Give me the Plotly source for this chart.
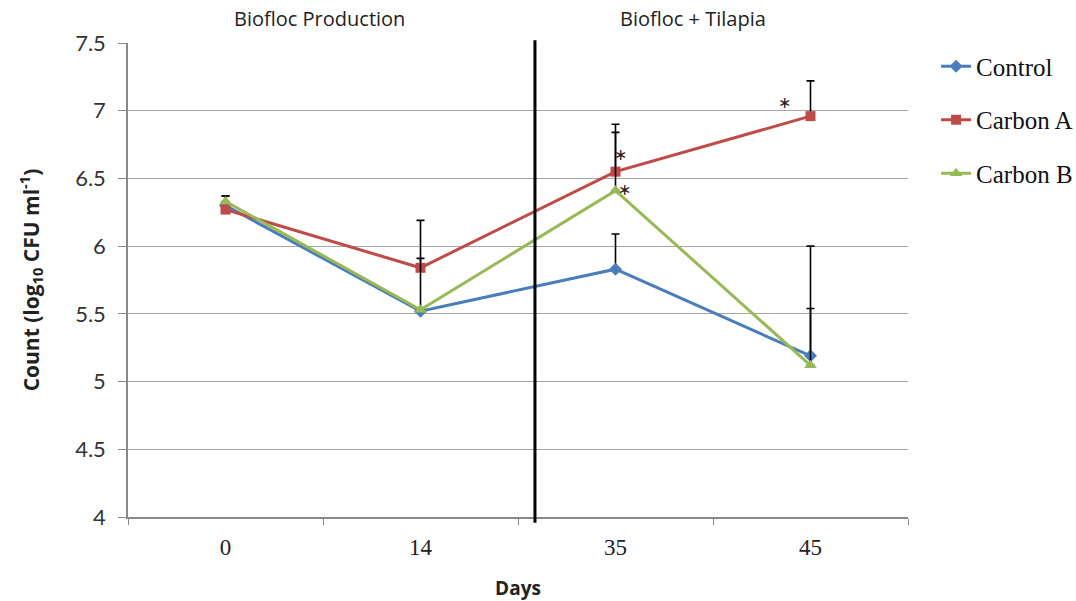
import plotly.graph_objects as go

# Sampling days (categorical axis)
days = ["0", "14", "35", "45"]

# Mean bacterial counts (log10 CFU/ml)
control = [6.30, 5.52, 5.83, 5.19]
carbon_a = [6.27, 5.84, 6.55, 6.96]
carbon_b = [6.33, 5.53, 6.41, 5.12]

# Upper error bar lengths
control_err = [0.07, 0.0, 0.26, 0.81]
carbon_a_err = [0.0, 0.35, 0.35, 0.26]
carbon_b_err = [0.04, 0.38, 0.43, 0.42]

# Significance markers: (day, y position)
stars = [("35", 6.68), ("35", 6.42), ("45", 7.06)]
star_shift = [5, 9, -26]

# Phase labels
phases = ["Biofloc Production", "Biofloc + Tilapia"]

series = [
    ("Control", control, control_err, "#4a7ebb", "diamond", 10),
    ("Carbon A", carbon_a, carbon_a_err, "#be4b48", "square", 10),
    ("Carbon B", carbon_b, carbon_b_err, "#98b954", "triangle-up", 11),
]

fig = go.Figure()
for name, vals, err, color, symbol, msize in series:
    fig.add_trace(go.Scatter(
        x=days, y=vals, name=name, mode="lines+markers",
        legendgroup=name,
        line=dict(color=color, width=3),
        marker=dict(color=color, symbol=symbol, size=msize),
        error_y=dict(type="data", symmetric=False, array=err,
                     arrayminus=[0] * len(err), color="black",
                     thickness=1.6, width=4),
    ))

for (d, yv), dx in zip(stars, star_shift):
    fig.add_annotation(x=days.index(d), y=yv, xref="x", yref="y",
                       text="∗", showarrow=False, xshift=dx,
                       font=dict(size=16, color="#222222", family="DejaVu Sans"))

# Divider between the two experimental phases
fig.add_shape(type="line", xref="x", yref="paper", x0=1.587, x1=1.587,
              y0=-0.012, y1=1.006, line=dict(color="black", width=3))

fig.add_annotation(xref="paper", yref="paper", x=0.245, y=1.085, xanchor="center",
                   text=phases[0], showarrow=False,
                   font=dict(size=20, family="Open Sans", color="#222222"))
fig.add_annotation(xref="paper", yref="paper", x=0.724, y=1.085, xanchor="center",
                   text=phases[1], showarrow=False,
                   font=dict(size=20, family="Open Sans", color="#222222"))

fig.update_layout(
    width=1076, height=601,
    margin=dict(l=128, r=168, t=43, b=84, autoexpand=False),
    paper_bgcolor="white", plot_bgcolor="white",
    showlegend=True,
    legend=dict(x=1.036, y=0.999, xanchor="left", yanchor="top",
                traceorder="grouped", tracegroupgap=18,
                font=dict(family="Liberation Serif", size=25, color="#111111"),
                bgcolor="rgba(0,0,0,0)", itemwidth=30),
    xaxis=dict(
        type="category", range=[-0.5, 3.5], tickson="boundaries",
        showline=True, linecolor="#888888", linewidth=1.5,
        ticks="outside", ticklen=6, tickcolor="#888888",
        showgrid=False, zeroline=False, ticklabelstandoff=9,
        tickfont=dict(family="Liberation Serif", size=23, color="#222222"),
        title=dict(text="<b>Days</b>", font=dict(family="Open Sans", size=19, color="#222222"),
                   standoff=22),
    ),
    yaxis=dict(
        range=[4, 7.5], dtick=0.5,
        showline=True, linecolor="#888888", linewidth=1.5,
        ticks="outside", ticklen=8, tickcolor="#888888",
        showgrid=True, gridcolor="#a6a6a6", gridwidth=1.3, zeroline=False,
        ticklabelstandoff=8,
        tickfont=dict(family="Lato", size=22, color="#333333"),
        title=dict(text="<b>Count (log<sub>10</sub> CFU ml<sup>-1</sup>)</b>",
                   font=dict(family="Open Sans", size=21, color="#222222"), standoff=30),
    ),
)

fig.write_html("out.html")
